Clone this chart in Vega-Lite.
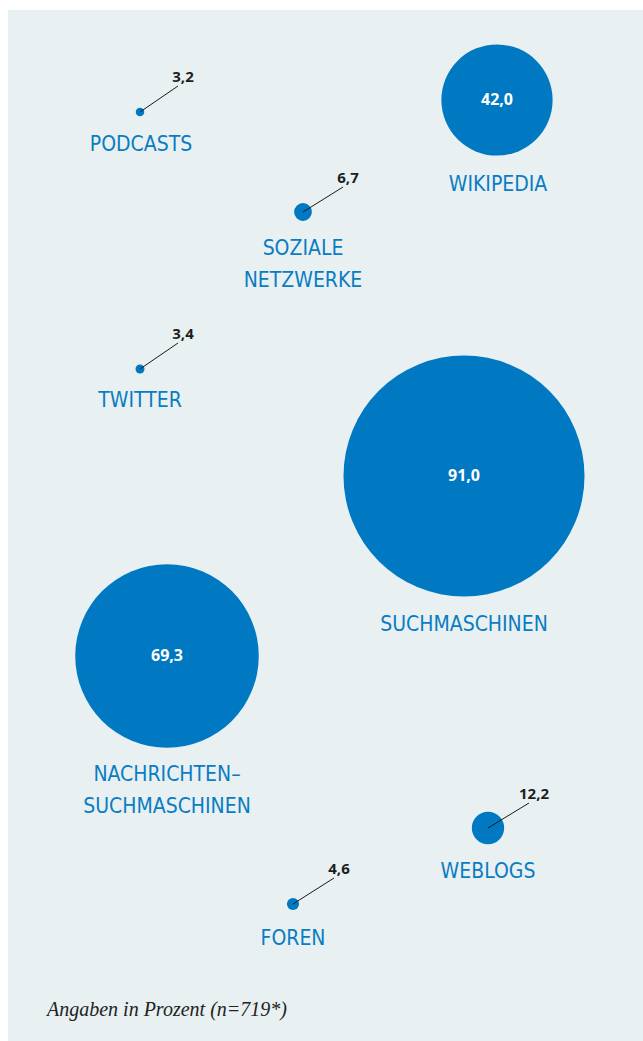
{
  "$schema": "https://vega.github.io/schema/vega-lite/v6.json",
  "autosize": {"type": "fit", "contains": "padding"},
  "width": 643,
  "height": 1041,
  "padding": {"left": 8, "top": 10, "right": 0, "bottom": 0},
  "background": "#ffffff",
  "config": {
    "view": {"fill": "#e8f0f2", "stroke": null},
    "locale": {"number": {"decimal": ",", "thousands": ".", "grouping": [3], "currency": ["", " €"]}}
  },
  "datasets": {
    "items": [
      {"name": "Podcasts", "value": 3.2, "x": 140, "y": 112, "lx": 178, "ly": 86},
      {"name": "Wikipedia", "value": 42.0, "x": 497, "y": 100},
      {"name": "Soziale Netzwerke", "value": 6.7, "x": 303, "y": 212, "lx": 343, "ly": 187},
      {"name": "Twitter", "value": 3.4, "x": 140, "y": 369, "lx": 178, "ly": 343},
      {"name": "Suchmaschinen", "value": 91.0, "x": 464, "y": 476},
      {"name": "Nachrichten-Suchmaschinen", "value": 69.3, "x": 167, "y": 656},
      {"name": "Weblogs", "value": 12.2, "x": 488, "y": 828, "lx": 529, "ly": 803},
      {"name": "Foren", "value": 4.6, "x": 293, "y": 904, "lx": 334, "ly": 878}
    ],
    "labels": [
      {"text": "PODCASTS", "x": 141, "y": 143},
      {"text": "WIKIPEDIA", "x": 498, "y": 183},
      {"text": "SOZIALE", "x": 303, "y": 247},
      {"text": "NETZWERKE", "x": 303, "y": 279},
      {"text": "TWITTER", "x": 140, "y": 399},
      {"text": "SUCHMASCHINEN", "x": 464, "y": 623},
      {"text": "NACHRICHTEN–", "x": 167, "y": 773},
      {"text": "SUCHMASCHINEN", "x": 167, "y": 805},
      {"text": "WEBLOGS", "x": 488, "y": 870},
      {"text": "FOREN", "x": 293, "y": 937}
    ],
    "note": [
      {"text": "Angaben in Prozent (n=719*)", "x": 47, "y": 1010}
    ]
  },
  "encoding": {
    "x": {"field": "x", "type": "quantitative", "scale": {"domain": [8, 643], "nice": false, "zero": false}, "axis": null},
    "y": {"field": "y", "type": "quantitative", "scale": {"domain": [10, 1041], "nice": false, "zero": false, "reverse": true}, "axis": null}
  },
  "layer": [
    {
      "data": {"name": "items"},
      "mark": {"type": "circle", "color": "#0079c2", "opacity": 1, "strokeWidth": 0},
      "encoding": {
        "size": {"field": "value", "type": "quantitative", "scale": {"type": "pow", "exponent": 2, "domain": [0, 91], "range": [0, 58081]}, "legend": null}
      }
    },
    {
      "data": {"name": "items"},
      "transform": [{"filter": "isValid(datum.lx)"}],
      "mark": {"type": "rule", "color": "#1a1a1a", "strokeWidth": 1},
      "encoding": {
        "x2": {"field": "lx"},
        "y2": {"field": "ly"}
      }
    },
    {
      "data": {"name": "items"},
      "transform": [{"filter": "isValid(datum.lx)"}],
      "mark": {"type": "text", "font": "Open Sans", "fontWeight": "bold", "fontSize": 15, "color": "#1e1e1e", "align": "center", "baseline": "middle", "dx": 5, "dy": -9},
      "encoding": {
        "x": {"field": "lx", "type": "quantitative"},
        "y": {"field": "ly", "type": "quantitative"},
        "text": {"field": "value", "type": "quantitative", "format": ".1f"}
      }
    },
    {
      "data": {"name": "items"},
      "transform": [{"filter": "!isValid(datum.lx)"}],
      "mark": {"type": "text", "font": "Open Sans", "fontWeight": "bold", "fontSize": 16, "color": "#ffffff", "align": "center", "baseline": "middle"},
      "encoding": {
        "text": {"field": "value", "type": "quantitative", "format": ".1f"}
      }
    },
    {
      "data": {"name": "labels"},
      "mark": {"type": "text", "font": "DejaVu Sans Condensed, Liberation Sans Narrow, Roboto", "fontSize": 21, "color": "#0a7cc2", "align": "center", "baseline": "middle", "dy": 2},
      "encoding": {
        "text": {"field": "text"}
      }
    },
    {
      "data": {"name": "note"},
      "mark": {"type": "text", "font": "Liberation Serif", "fontStyle": "italic", "fontSize": 20, "color": "#222222", "align": "left", "baseline": "middle"},
      "encoding": {
        "text": {"field": "text"}
      }
    }
  ]
}
